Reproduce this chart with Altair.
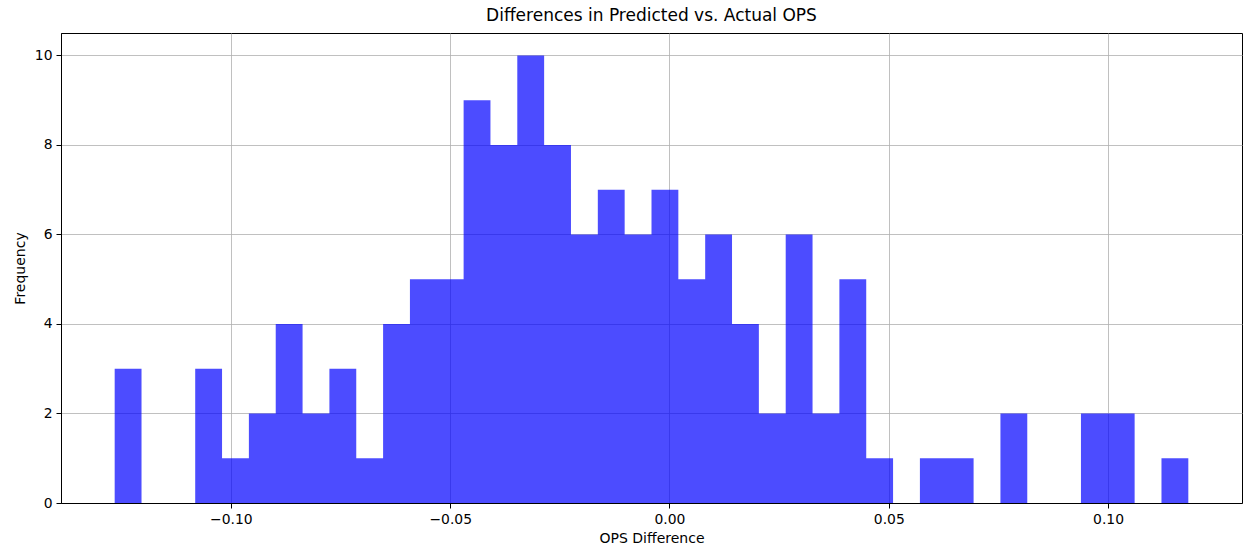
import altair as alt
import numpy as np
import pandas as pd

# Histogram of OPS differences: 40 equal-width bins between the data min and max
x_min = -0.1265
x_max = 0.1183
counts = [3, 0, 0, 3, 1, 2, 4, 2, 3, 1,
          4, 5, 5, 9, 8, 10, 8, 6, 7, 6,
          7, 5, 6, 4, 2, 6, 2, 5, 1, 0,
          1, 1, 0, 2, 0, 0, 2, 2, 0, 1]
x_ticks = [-0.10, -0.05, 0.00, 0.05, 0.10]
y_ticks = [0, 2, 4, 6, 8, 10]

edges = np.linspace(x_min, x_max, len(counts) + 1)
# step outline: each bin's left edge with its count, closed at the last right edge
df = pd.DataFrame({"edge": edges, "count": counts + [counts[-1]]})

span = x_max - x_min
x_domain = [x_min - 0.05 * span, x_max + 0.05 * span]

FONT = "DejaVu Sans"

chart = alt.Chart(df).mark_area(color="#0000ff", opacity=0.7, interpolate="step-after").encode(
    x=alt.X("edge:Q",
            scale=alt.Scale(domain=x_domain, nice=False, zero=False),
            axis=alt.Axis(title="OPS Difference", values=x_ticks, format=".2f",
                          tickSize=5, labelPadding=4, titlePadding=6)),
    y=alt.Y("count:Q",
            scale=alt.Scale(domain=[0, 10.5], nice=False),
            axis=alt.Axis(title="Frequency", values=y_ticks, format="d",
                          tickSize=5, labelPadding=4, titlePadding=7)),
).properties(
    width=1181,
    height=470,
    background="white",
    autosize=alt.AutoSizeParams(type="none"),
    padding={"left": 61, "top": 33, "right": 2, "bottom": 47},
    title=alt.Title("Differences in Predicted vs. Actual OPS", fontSize=17,
                    font=FONT, fontWeight="normal", color="black",
                    anchor="middle", offset=8),
).configure_view(
    stroke="black", strokeWidth=1
).configure_axis(
    grid=True, gridColor="#b0b0b0", gridWidth=0.8, zindex=1,
    domainColor="black", domainWidth=1,
    tickColor="black", tickWidth=1,
    labelFont=FONT, labelFontSize=13.9, labelColor="black",
    titleFont=FONT, titleFontSize=14, titleColor="black", titleFontWeight="normal",
)

chart.save("out.html", embed_options={"renderer": "svg", "actions": False})
